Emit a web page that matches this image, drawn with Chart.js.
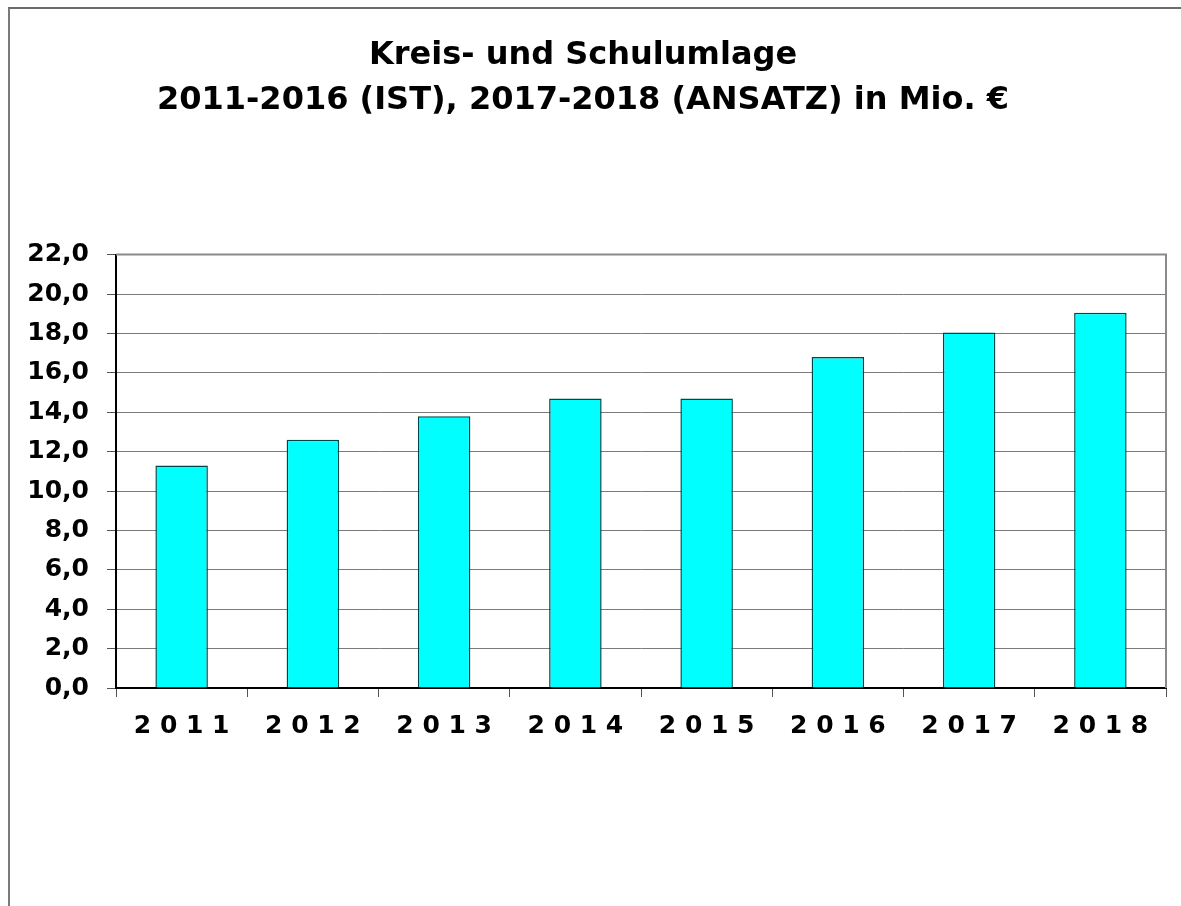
<!DOCTYPE html>
<html>
<head>
<meta charset="utf-8">
<script src="https://cdn.jsdelivr.net/npm/chart.js@4/dist/chart.umd.min.js"></script>
<style>
  html, body { margin: 0; padding: 0; background: #fff; }
  #wrap { position: relative; width: 1181px; height: 906px; overflow: hidden; }
  #frame { position: absolute; left: 8px; top: 7px; width: 1300px; height: 1000px;
           border-left: 2px solid #7a7a7a; border-top: 2px solid #6a6a6a; pointer-events: none; }
  canvas { position: absolute; left: 0; top: 0; }
</style>
</head>
<body>
<div id="wrap">
  <canvas id="c" width="1181" height="906"></canvas>
  <div id="frame"></div>
</div>
<script>
const titleLines = ['Kreis- und Schulumlage', '2011-2016 (IST), 2017-2018 (ANSATZ) in Mio. €'];
const years = ['2011', '2012', '2013', '2014', '2015', '2016', '2017', '2018'];
const umlage = [11.3, 12.6, 13.8, 14.7, 14.7, 16.8, 18.05, 19.05];
const yMin = 0, yMax = 22, yStep = 2;

const FONT = "'DejaVu Sans', 'Liberation Sans', Arial, sans-serif";

const frameBorder = {
  id: 'frameBorder',
  beforeDatasetsDraw(chart) {
    const { ctx, chartArea: a } = chart;
    ctx.save();
    ctx.strokeStyle = '#8a8a8a';
    ctx.lineWidth = 2;
    ctx.beginPath();
    ctx.moveTo(a.left, a.top);
    ctx.lineTo(a.right, a.top);
    ctx.lineTo(a.right, a.bottom);
    ctx.stroke();
    ctx.restore();
  }
};

new Chart(document.getElementById('c'), {
  type: 'bar',
  data: {
    labels: years,
    datasets: [{
      data: umlage,
      backgroundColor: '#00FFFF',
      borderColor: '#004848',
      borderWidth: 1.5,
      categoryPercentage: 0.4,
      barPercentage: 1.0
    }]
  },
  options: {
    responsive: false,
    animation: false,
    layout: { padding: { left: 0, right: 15, top: 0, bottom: 0 } },
    plugins: {
      legend: { display: false },
      tooltip: { enabled: false },
      title: {
        display: true,
        text: titleLines,
        color: '#000',
        font: { family: FONT, size: 32, weight: 'bold', lineHeight: 1.4 },
        padding: { top: 33, bottom: 132 }
      }
    },
    scales: {
      x: {
        grid: { display: true, drawOnChartArea: false, drawTicks: true, tickLength: 9, color: '#555', offset: true },
        border: { display: true, color: '#000', width: 2 },
        ticks: {
          color: '#000',
          font: { family: FONT, size: 25, weight: 'bold' },
          padding: 14,
          maxRotation: 0,
          callback: function (v) { return this.getLabelForValue(v).split('').join(' '); }
        },
        afterFit: (s) => { s.height = 218; }
      },
      y: {
        min: yMin,
        max: yMax,
        grid: { color: '#7a7a7a', lineWidth: 1, tickLength: 9, tickColor: '#555' },
        border: { display: true, color: '#000', width: 2 },
        ticks: {
          stepSize: yStep,
          color: '#000',
          padding: 18,
          font: { family: FONT, size: 25, weight: 'bold' },
          callback: (v) => v.toFixed(1).replace('.', ',')
        },
        afterFit: (s) => { s.width = 116; }
      }
    }
  },
  plugins: [frameBorder]
});
</script>
</body>
</html>
